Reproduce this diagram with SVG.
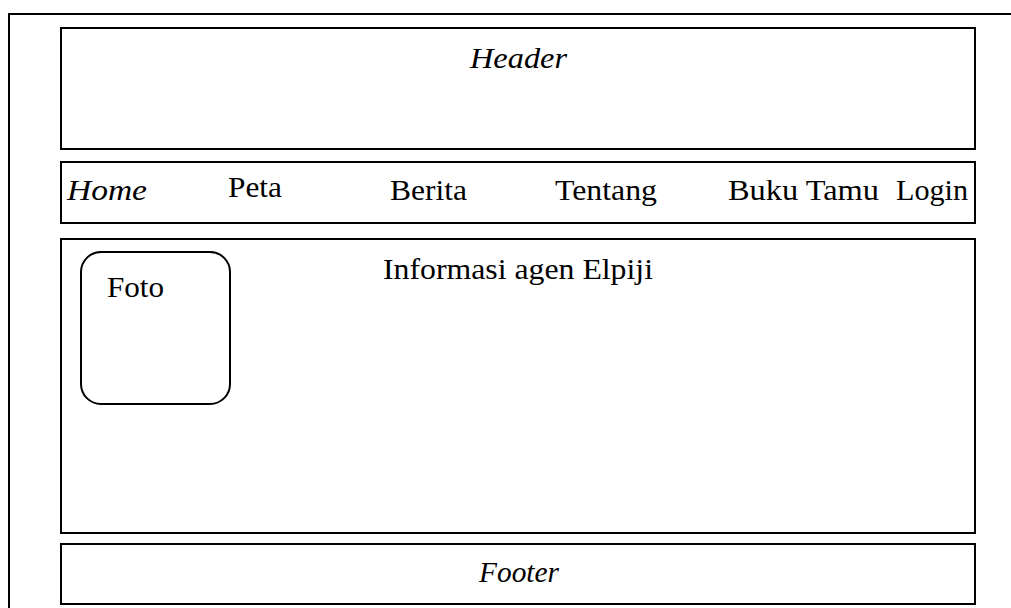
<svg xmlns="http://www.w3.org/2000/svg" width="1011" height="608" viewBox="0 0 1011 608">
<style>
.b{fill:none;stroke:#000;stroke-width:2}
.t{font-family:"Liberation Serif","Times New Roman",serif;font-size:30px;fill:#000}
.i{font-style:italic}
</style>
<rect width="1011" height="608" fill="#fff"/>
<g id="page"><path class="b" d="M9,608 V14 H1011"/></g>
<g id="header"><rect class="b" x="61" y="28" width="914" height="121"/><text class="t i" x="470" y="68" textLength="97" lengthAdjust="spacingAndGlyphs">Header</text></g>
<g id="nav"><rect class="b" x="61" y="162" width="914" height="61"/>
<text class="t i" x="67" y="200" textLength="80" lengthAdjust="spacingAndGlyphs">Home</text>
<text class="t" x="228" y="197" textLength="54" lengthAdjust="spacingAndGlyphs">Peta</text>
<text class="t" x="390" y="200" textLength="77" lengthAdjust="spacingAndGlyphs">Berita</text>
<text class="t" x="555" y="200" textLength="102" lengthAdjust="spacingAndGlyphs">Tentang</text>
<text class="t" x="728" y="200" textLength="151" lengthAdjust="spacingAndGlyphs">Buku Tamu</text>
<text class="t" x="896" y="200" textLength="72" lengthAdjust="spacingAndGlyphs">Login</text>
</g>
<g id="content"><rect class="b" x="61" y="239" width="914" height="294"/><text class="t" x="383" y="279" textLength="270" lengthAdjust="spacingAndGlyphs">Informasi agen Elpiji</text></g>
<g id="foto"><rect class="b" x="81" y="252" width="149" height="152" rx="20" ry="20"/><text class="t" x="107" y="297" textLength="57" lengthAdjust="spacingAndGlyphs">Foto</text></g>
<g id="footer"><rect class="b" x="61" y="544" width="914" height="60"/><text class="t i" x="479" y="582" textLength="80" lengthAdjust="spacingAndGlyphs">Footer</text></g>
<g id="connectors"/>
</svg>
